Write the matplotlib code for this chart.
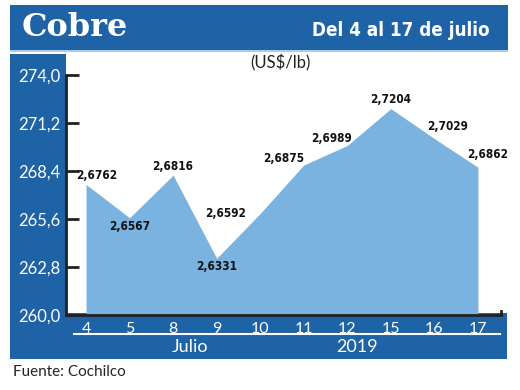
import matplotlib
matplotlib.use("Agg")
import matplotlib.pyplot as plt
from matplotlib.patches import Rectangle
from matplotlib.lines import Line2D

# data (US$/lb)
days = ["4", "5", "8", "9", "10", "11", "12", "15", "16", "17"]
prices = [2.6762, 2.6567, 2.6816, 2.6331, 2.6592, 2.6875, 2.6989, 2.7204, 2.7029, 2.6862]
y_ticks = [260.0, 262.8, 265.6, 268.4, 271.2, 274.0]

BLUE = "#1e63a6"
FILL = "#7ab3e0"
W, H = 520, 390

# label offsets in pixels (dx, dy)
offsets = [(11, 9), (0, -9), (0, 9), (0, -8), (-35, 0), (-20, 6), (-16, 7), (0, 9), (13, 12), (10, 13)]

plt.rcParams['font.family'] = ['Lato', 'DejaVu Sans']

fig = plt.figure(figsize=(W / 100, H / 100), dpi=100)


def box(x0, y0, x1, y1, color):
    fig.patches.append(Rectangle((x0 / W, 1 - y1 / H), (x1 - x0) / W, (y1 - y0) / H,
                                 transform=fig.transFigure, color=color, lw=0, zorder=-5))


# header and side bands
box(10, 5, 508, 50, BLUE)
box(10, 50, 508, 52, "#a9cdec")
box(10, 54, 66, 359, BLUE)
box(10, 313, 507, 359, BLUE)

ax = fig.add_axes([66 / W, 75 / H, 435 / W, 240 / H])
ax.set_zorder(2)
ax.patch.set_alpha(0)

x = list(range(len(days)))
cents = [p * 100 for p in prices]
ax.fill_between(x, y_ticks[0], cents, color=FILL, lw=0, zorder=1)

ax.set_xlim(-0.46, len(days) - 1 + 0.53)
ax.set_ylim(y_ticks[0], y_ticks[-1])
ax.set_yticks(y_ticks)
ax.set_yticklabels([f"{t:.1f}".replace(".", ",") for t in y_ticks])
ax.set_xticks(x)
ax.set_xticklabels(days)

for s in ["top", "right"]:
    ax.spines[s].set_visible(False)
for s in ["left", "bottom"]:
    ax.spines[s].set_color("#222222")
    ax.spines[s].set_linewidth(2)
    ax.spines[s].set_zorder(3)

ax.tick_params(axis="y", direction="in", length=9, width=2, color="#222222",
               labelcolor="white", labelsize=12, pad=4)
ax.tick_params(axis="x", length=0, labelcolor="white", labelsize=11.5, pad=5)

# small closing tick at the right end of the x axis
ax.plot([ax.get_xlim()[1]] * 2, [y_ticks[0], y_ticks[0] + 0.25], color="#222222",
        lw=2, clip_on=False, zorder=3)

for i, (v, c) in enumerate(zip(prices, cents)):
    dx, dy = offsets[i]
    ax.annotate(f"{v:.4f}".replace(".", ","), (i, c), xytext=(dx * 0.72, dy * 0.72),
                textcoords="offset points", ha="center", va="center",
                fontsize=8.5, fontweight="bold", fontstretch="condensed", color="#111111",
                family=["DejaVu Sans"], zorder=4)

# texts
fig.text(22 / W, 1 - 28 / H, "Cobre", color="white", fontsize=23, fontweight="bold",
         family=["DejaVu Serif"], va="center", ha="left")
fig.text(490 / W, 1 - 30 / H, "Del 4 al 17 de julio", color="white", fontsize=13.5,
         fontweight="bold", fontstretch="condensed", family=["DejaVu Sans"],
         va="center", ha="right")
fig.text(280 / W, 1 - 63 / H, "(US$/lb)", color="#222222", fontsize=12,
         va="center", ha="center")
fig.add_artist(Line2D([74 / W, 500 / W], [1 - 334 / H, 1 - 334 / H],
                      transform=fig.transFigure, color="white", lw=1.5))
fig.text(190 / W, 1 - 347 / H, "Julio", color="white", fontsize=13, va="center", ha="center")
fig.text(357 / W, 1 - 347 / H, "2019", color="white", fontsize=13, va="center", ha="center")
fig.text(13 / W, 1 - 372 / H, "Fuente: Cochilco", color="#222222", fontsize=11,
         va="center", ha="left")

fig.savefig("out.png", dpi=100)
